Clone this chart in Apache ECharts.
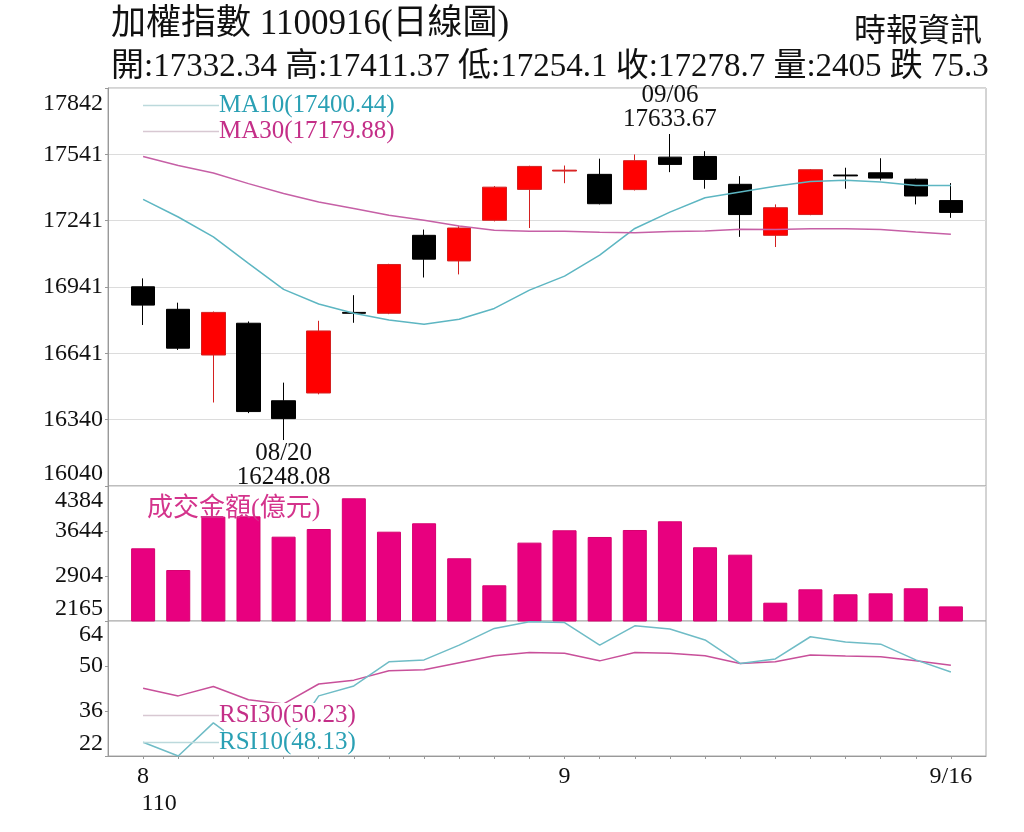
<!DOCTYPE html>
<html>
<head>
<meta charset="utf-8">
<title>加權指數 日線圖</title>
<script src="https://cdn.jsdelivr.net/npm/echarts@6/dist/echarts.min.js"></script>
<style>
html,body{margin:0;padding:0;background:#fff;}
#chart{width:1024px;height:832px;}
</style>
</head>
<body>
<div id="chart"></div>
<script>
// 日期 (110年)
var dates = ['08/16','08/17','08/18','08/19','08/20','08/23','08/24','08/25','08/26','08/27','08/30','08/31',
	'09/01','09/02','09/03','09/06','09/07','09/08','09/09','09/10','09/13','09/14','09/15','09/16'];
var opens  = [16942,16840,16633,16777,16426,16461,16826,16822,17175,17059,17243,17383,17466,17451,17382,17529,17532,17406,17175,17269,17448,17458,17429,17332.34];
var closes = [16859,16664,16826,16377,16345,16742,16822,17043,17067,17208,17393,17487,17470,17318,17513,17496,17428,17269,17300,17472,17444,17434,17353,17278.7];
var lows   = [16769,16656,16418,16370,16248.08,16455,16779,16818,16984,16998,17238,17208,17411,17315,17378,17461,17386,17168,17122,17266,17386,17424,17315,17254.1];
var highs  = [16980,16870,16830,16785,16508,16788,16904,17046,17201,17217,17398,17490,17491,17522,17541,17633.67,17556,17443,17315,17475,17481,17524,17432,17411.37];
var ma10 = [17338,17258,17168,17048,16930,16864,16822,16792,16772,16795,16844,16927,16990,17085,17206,17280,17345,17371,17397,17419,17424,17416,17401,17400.44];
var ma30 = [17532,17491,17457,17409,17364,17326,17296,17266,17243,17217,17198,17193,17193,17189,17187,17192,17195,17202,17201,17205,17205,17201,17190,17179.88];
// 成交金額(億元)
var turnover = [3360,3003,3880,3885,3551,3677,4182,3633,3771,3196,2752,3453,3656,3546,3661,3804,3377,3255,2466,2686,2604,2620,2703,2405];
var rsi30 = [43.1,40.7,43.6,39.5,38.2,44.4,45.6,48.5,48.8,51.0,53.2,54.2,54.0,51.6,54.2,54.0,53.2,50.8,51.3,53.4,53.1,52.9,51.6,50.23];
var rsi10 = [26.3,22.0,32.3,24.2,24.5,40.7,43.8,51.3,51.9,56.5,61.7,63.8,63.5,56.5,62.5,61.5,58.1,50.8,52.2,59.1,57.5,56.8,51.9,48.13];
// 刻度
var priceTicks = [16040,16340,16641,16941,17241,17541,17842];
var volumeTicks = [2165,2904,3644,4384];
var rsiTicks = [22,36,50,64];

var SERIF = '"Liberation Serif","Noto Sans CJK TC",serif';
var cats = [' '].concat(dates, ['  ']);

function pad(arr){
	return ['-'].concat(arr, ['-']);
}
// 取最近的刻度文字，最上面一個往下移
function tickLabel(ticks){
	return function(v){
		var best = ticks[0];
		ticks.forEach(function(t){ if(Math.abs(t-v) < Math.abs(best-v)) best = t; });
		return best === ticks[ticks.length-1] ? '{t|' + best + '}' : '' + best;
	};
}

var kData = dates.map(function(d,i){ return [opens[i], closes[i], lows[i], highs[i]]; });
var lowIdx = lows.indexOf(Math.min.apply(null, lows));
var highIdx = highs.indexOf(Math.max.apply(null, highs));

function xLabel(value, index){
	var i = index - 1;
	if(i < 0 || i >= dates.length) return '';
	if(i === dates.length - 1) return parseInt(dates[i].slice(0,2),10) + '/' + parseInt(dates[i].slice(3),10);
	if(i === 0) return parseInt(dates[i].slice(0,2),10) + '\n{p|110}';
	if(dates[i].slice(0,2) !== dates[i-1].slice(0,2)) return '' + parseInt(dates[i].slice(0,2),10);
	return '';
}

var gridBase = {left:108, right:38, show:true, borderColor:'#a8a8a8', borderWidth:1, backgroundColor:'#fff'};
var axisLabelBase = {fontFamily:SERIF, fontSize:24, color:'#111', margin:5};

function yLabel(ticks, topPad){
	return Object.assign({}, axisLabelBase, {
		formatter:tickLabel(ticks),
		verticalAlignMinLabel:'bottom',
		rich:{t:{fontFamily:SERIF, fontSize:24, color:'#111', padding:[topPad,0,0,0]}}
	});
}

var option = {
	animation:false,
	backgroundColor:'#fff',
	title:[
		{text:'加權指數 1100916(日線圖)', left:106, top:2, textStyle:{fontFamily:SERIF, fontSize:35, fontWeight:'normal', color:'#111'}},
		{text:'開:17332.34 高:17411.37 低:17254.1 收:17278.7 量:2405 跌 75.3', left:106, top:46, textStyle:{fontFamily:SERIF, fontSize:33, fontWeight:'normal', color:'#111'}},
		{text:'時報資訊', right:37, top:12, textStyle:{fontFamily:SERIF, fontSize:32, fontWeight:'normal', color:'#111'}},
		{text:'成交金額(億元)', left:142, top:491, textStyle:{fontFamily:SERIF, fontSize:26, fontWeight:'normal', color:'#d4348c'}}
	],
	legend:[
		{
			orient:'vertical', left:143, top:93, padding:0, itemGap:1, selectedMode:false,
			itemWidth:76, itemHeight:1.5, icon:'rect',
			textStyle:{fontFamily:SERIF, fontSize:25, padding:[0,0,0,-5]},
			data:[
				{name:'MA10(17400.44)', itemStyle:{color:'#bcd9dc'}, textStyle:{color:'#2aa0b4'}},
				{name:'MA30(17179.88)', itemStyle:{color:'#d8c8d2'}, textStyle:{color:'#c42f88'}}
			]
		},
		{
			orient:'vertical', left:143, top:703, padding:0, itemGap:2, selectedMode:false,
			itemWidth:76, itemHeight:1.5, icon:'rect',
			textStyle:{fontFamily:SERIF, fontSize:25, padding:[0,0,0,-5], backgroundColor:'#fff'},
			data:[
				{name:'RSI30(50.23)', itemStyle:{color:'#d8c8d2'}, textStyle:{color:'#c42f88'}},
				{name:'RSI10(48.13)', itemStyle:{color:'#bcd9dc'}, textStyle:{color:'#2aa0b4'}}
			]
		}
	],
	grid:[
		Object.assign({}, gridBase, {top:88, height:398}),
		Object.assign({}, gridBase, {top:486, height:135}),
		Object.assign({}, gridBase, {top:621, height:135})
	],
	xAxis:[0,1,2].map(function(g){
		var bottom = g === 2;
		return {
			type:'category', gridIndex:g, data:cats, boundaryGap:false,
			axisLine:{show:bottom, lineStyle:{color:'#999'}},
			axisTick:{show:bottom, length:3, lineStyle:{color:'#999'},
				interval:function(index){ return index >= 1 && index <= dates.length; }},
			axisLabel:bottom ? Object.assign({}, axisLabelBase, {
				interval:0, margin:7, lineHeight:27, formatter:xLabel,
				rich:{p:{fontFamily:SERIF, fontSize:24, color:'#111', padding:[0,0,0,32]}}
			}) : {show:false},
			splitLine:{show:false}
		};
	}),
	yAxis:[
		{
			type:'value', gridIndex:0, min:priceTicks[0], max:priceTicks[6],
			interval:(priceTicks[6]-priceTicks[0])/6,
			axisLine:{show:true, lineStyle:{color:'#999'}},
			axisTick:{show:true, length:3, lineStyle:{color:'#999'}},
			axisLabel:yLabel(priceTicks, 32),
			splitLine:{show:true, lineStyle:{color:'#dcdcdc'}}
		},
		{
			type:'value', gridIndex:1, min:volumeTicks[0], max:volumeTicks[3],
			interval:(volumeTicks[3]-volumeTicks[0])/3,
			axisLine:{show:true, lineStyle:{color:'#999'}},
			axisTick:{show:true, length:3, lineStyle:{color:'#999'}},
			axisLabel:yLabel(volumeTicks, 30),
			splitLine:{show:false}
		},
		{
			type:'value', gridIndex:2, min:rsiTicks[0], max:rsiTicks[3], interval:14,
			axisLine:{show:true, lineStyle:{color:'#999'}},
			axisTick:{show:true, length:3, lineStyle:{color:'#999'}},
			axisLabel:yLabel(rsiTicks, 28),
			splitLine:{show:false}
		}
	],
	series:[
		{
			name:'日K', type:'candlestick', xAxisIndex:0, yAxisIndex:0,
			data:pad(kData), barWidth:24,
			itemStyle:{color:'#ff0000', color0:'#000000', borderColor:'#d42020', borderColor0:'#000000', borderWidth:1},
			markPoint:{
				symbol:'circle', symbolSize:1, itemStyle:{color:'rgba(0,0,0,0)'},
				label:{color:'#111', fontFamily:SERIF, fontSize:25, lineHeight:24},
				data:[
					{coord:[dates[lowIdx], lows[lowIdx]],
						label:{position:'bottom', distance:1, formatter:dates[lowIdx] + '\n' + lows[lowIdx].toFixed(2)}},
					{coord:[dates[highIdx], highs[highIdx]],
						label:{position:'top', distance:2, formatter:dates[highIdx] + '\n' + highs[highIdx].toFixed(2)}}
				]
			}
		},
		{
			name:'MA10(17400.44)', type:'line', xAxisIndex:0, yAxisIndex:0,
			data:pad(ma10), symbol:'none', lineStyle:{color:'#5db6c2', width:1.5}, itemStyle:{color:'#5db6c2'}
		},
		{
			name:'MA30(17179.88)', type:'line', xAxisIndex:0, yAxisIndex:0,
			data:pad(ma30), symbol:'none', lineStyle:{color:'#c660a6', width:1.5}, itemStyle:{color:'#c660a6'}
		},
		{
			name:'成交金額', type:'bar', xAxisIndex:1, yAxisIndex:1, clip:true,
			data:pad(turnover), barWidth:24,
			itemStyle:{color:'#e8007f', borderColor:'#d6006f', borderWidth:1}
		},
		{
			name:'RSI30(50.23)', type:'line', xAxisIndex:2, yAxisIndex:2,
			data:pad(rsi30), symbol:'none', lineStyle:{color:'#c8509a', width:1.5}, itemStyle:{color:'#c8509a'}
		},
		{
			name:'RSI10(48.13)', type:'line', xAxisIndex:2, yAxisIndex:2,
			data:pad(rsi10), symbol:'none', lineStyle:{color:'#6fbcc6', width:1.5}, itemStyle:{color:'#6fbcc6'}
		}
	]
};

var myChart = echarts.init(document.getElementById('chart'));
myChart.setOption(option);
</script>
</body>
</html>
